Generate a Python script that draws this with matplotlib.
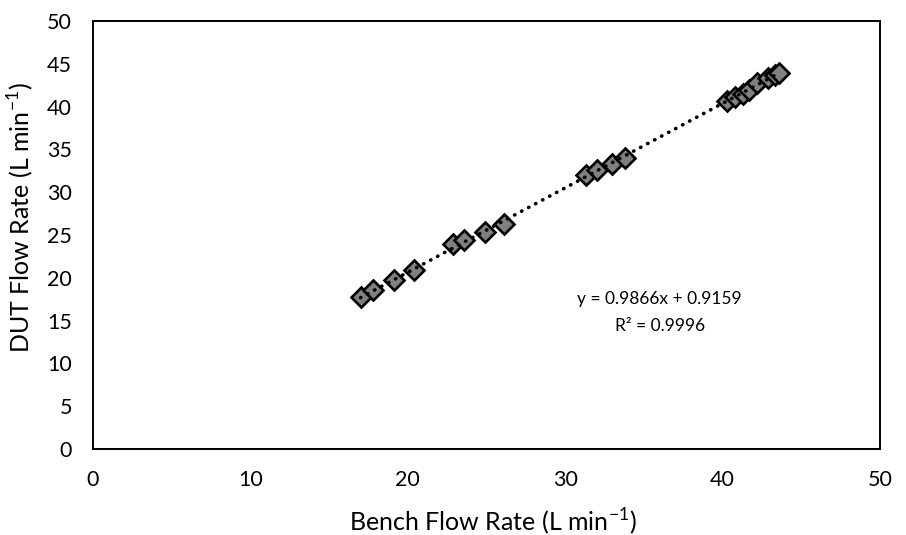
import numpy as np
import matplotlib
matplotlib.use('Agg')
import matplotlib.pyplot as plt

plt.rcParams['font.family'] = ['Lato', 'DejaVu Sans']

# bench vs DUT flow rates (L/min)
bench = [17.0, 17.8, 19.1, 20.4, 22.9, 23.6, 24.9, 26.1,
         31.3, 32.0, 33.0, 33.8,
         40.3, 40.8, 41.3, 41.7, 42.2, 42.9, 43.3, 43.6]
dut = [17.8, 18.6, 19.7, 20.9, 23.9, 24.4, 25.4, 26.3,
       32.0, 32.6, 33.3, 34.0,
       40.7, 41.1, 41.5, 41.9, 42.8, 43.4, 43.7, 43.9]
x_ticks = [0, 10, 20, 30, 40, 50]
y_ticks = [0, 5, 10, 15, 20, 25, 30, 35, 40, 45, 50]

fig = plt.figure(figsize=(9.06, 5.35), dpi=100)
ax = fig.add_axes([0.1026, 0.1607, 0.8687, 0.80])

ax.plot(bench, dut, linestyle='none', marker='D', markersize=10,
        markerfacecolor='#808080', markeredgecolor='black', markeredgewidth=1.9, zorder=2)

# linear trendline (Excel fit shown on the chart)
xs = np.array([min(bench), max(bench)])
ax.plot(xs, 0.9866 * xs + 0.9159, color='black', linestyle=(0, (0.1, 2.1)),
        linewidth=2.6, dash_capstyle='round', zorder=3)

ax.text(36.0, 17.5, 'y = 0.9866x + 0.9159', ha='center', va='center', fontsize=12.5)
ax.text(36.0, 14.4, 'R² = 0.9996', ha='center', va='center', fontsize=12.5)

ax.set_xlim(0, 50)
ax.set_ylim(0, 50)
ax.set_xticks(x_ticks)
ax.set_yticks(y_ticks)
ax.tick_params(axis='x', length=0, labelsize=15.5, pad=15)
ax.tick_params(axis='y', length=0, labelsize=15.5, pad=15)
for sp in ax.spines.values():
    sp.set_linewidth(1.4)
    sp.set_color('black')

ax.set_xlabel(r'Bench Flow Rate (L min$^{\mathregular{-1}}$)', fontsize=18)
ax.set_ylabel(r'DUT Flow Rate (L min$^{\mathregular{-1}}$)', fontsize=18)
ax.xaxis.set_label_coords(0.508, -0.133)
ax.yaxis.set_label_coords(-0.072, 0.54)

fig.savefig('out.png', dpi=100)
